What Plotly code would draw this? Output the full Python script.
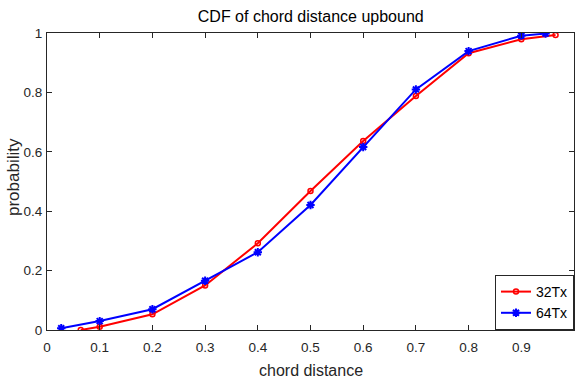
import plotly.graph_objects as go

x32 = [0.064, 0.1, 0.2, 0.3, 0.4, 0.5, 0.6, 0.7, 0.8, 0.9, 0.965]
y32 = [0.0, 0.011, 0.053, 0.150, 0.292, 0.468, 0.636, 0.788, 0.932, 0.979, 0.993]
x64 = [0.027, 0.1, 0.2, 0.3, 0.4, 0.5, 0.6, 0.7, 0.8, 0.9, 0.946]
y64 = [0.006, 0.030, 0.070, 0.166, 0.262, 0.421, 0.616, 0.810, 0.939, 0.991, 0.998]

xticks = [0, 0.1, 0.2, 0.3, 0.4, 0.5, 0.6, 0.7, 0.8, 0.9, 1]
xtick_labels = ["0", "0.1", "0.2", "0.3", "0.4", "0.5", "0.6", "0.7", "0.8", "0.9", "1"]
yticks = [0, 0.2, 0.4, 0.6, 0.8, 1]
ytick_labels = ["0", "0.2", "0.4", "0.6", "0.8", "1"]

REG = "Liberation Sans, Arial, sans-serif"
TXT = "#262626"

fig = go.Figure()
fig.add_trace(go.Scatter(x=x32, y=y32, mode="lines+markers", name="32Tx",
                         line=dict(color="#ff0000", width=2),
                         marker=dict(symbol="circle-open", size=5, color="#ff0000",
                                     line=dict(width=1.5, color="#ff0000"))))
fig.add_trace(go.Scatter(x=x64, y=y64, mode="lines+markers", name="64Tx",
                         line=dict(color="#0000ff", width=2),
                         marker=dict(symbol="asterisk-open", size=7, color="#0000ff",
                                     line=dict(width=2, color="#0000ff"))))

axis_common = dict(showgrid=False, zeroline=False, showline=True, linecolor=TXT,
                   linewidth=1, mirror="ticks", ticks="inside", ticklen=5,
                   tickcolor=TXT, tickfont=dict(family=REG, size=13.5, color=TXT))

fig.update_layout(
    width=576, height=381,
    margin=dict(l=47, r=2, t=33, b=51),
    paper_bgcolor="white", plot_bgcolor="white",
    title=dict(text="CDF of chord distance upbound", x=0.5395, xanchor="center",
               y=1 - 16 / 381, yanchor="middle",
               font=dict(family=REG, size=16, color="black")),
    xaxis=dict(range=[0, 1], tickvals=xticks, ticktext=xtick_labels,
               ticklabelstandoff=5, **axis_common),
    yaxis=dict(range=[0, 1], tickvals=yticks, ticktext=ytick_labels,
               ticklabelstandoff=1, **axis_common),
    legend=dict(x=1, y=0, xanchor="right", yanchor="bottom",
                bordercolor=TXT, borderwidth=1, bgcolor="white",
                font=dict(family=REG, size=14, color="black"),
                itemwidth=30, tracegroupgap=0),
    showlegend=True,
    annotations=[
        dict(text="chord distance", xref="paper", yref="paper", x=0.5, y=(330 - 370) / 297,
             xanchor="center", yanchor="middle", showarrow=False,
             font=dict(family=REG, size=16, color=TXT)),
        dict(text="probability", xref="paper", yref="paper", x=(13 - 47) / 527, y=(330 - 177) / 297,
             xanchor="center", yanchor="middle", showarrow=False, textangle=-90,
             font=dict(family=REG, size=17, color=TXT)),
    ],
)

fig.write_html("out.html")
